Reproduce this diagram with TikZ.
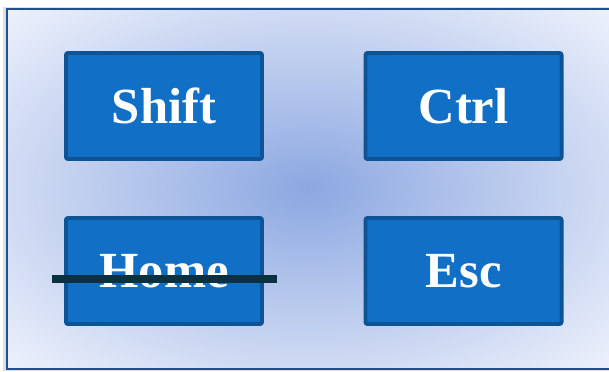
\documentclass[tikz,border=0pt]{standalone}
\usepackage{fontspec}
\setmainfont{Liberation Serif}
\usetikzlibrary{positioning}

\definecolor{keyfill}{RGB}{17,112,198}
\definecolor{keyedge}{RGB}{12,84,150}
\definecolor{frameedge}{RGB}{31,79,143}
\definecolor{glowin}{RGB}{140,168,225}
\definecolor{glowout}{RGB}{240,243,252}
\definecolor{strikecol}{RGB}{11,49,64}

\begin{document}
\begin{tikzpicture}[x=0.025cm, y=-0.025cm,
  keybox/.style={draw=keyedge, fill=keyfill, line width=2.8pt, rounded corners=1.5pt,
    minimum width=4.9cm, minimum height=2.65cm, inner sep=0pt,
    text=white, font=\fontsize{36}{40}\selectfont\bfseries},
  strike/.style={draw=strikecol, line width=5pt}]

\useasboundingbox (0,0) rectangle (609,371);
\fill [gray!25] (3,7) rectangle (609,371);
\begin{scope}
  \clip (7,9) rectangle (609,369);
  \shade [inner color=glowin, outer color=glowout] (-128,-72) rectangle (744,450);
\end{scope}
\draw [frameedge, line width=1.8pt] (609,9) -- (7,9) -- (7,369) -- (609,369);

\node [keybox] (Shift) at (164,106) {Shift};
\node [keybox] (Ctrl) at (463.5,106) {Ctrl};
\node [keybox] (Home) at (164,271) {Home};
\node [keybox] (Esc) at (463.5,271) {Esc};

\coordinate (strikeL) at (52,279);
\coordinate (strikeR) at (277,279);
\draw [strike] (strikeL) -- (strikeR);

\end{tikzpicture}
\end{document}
